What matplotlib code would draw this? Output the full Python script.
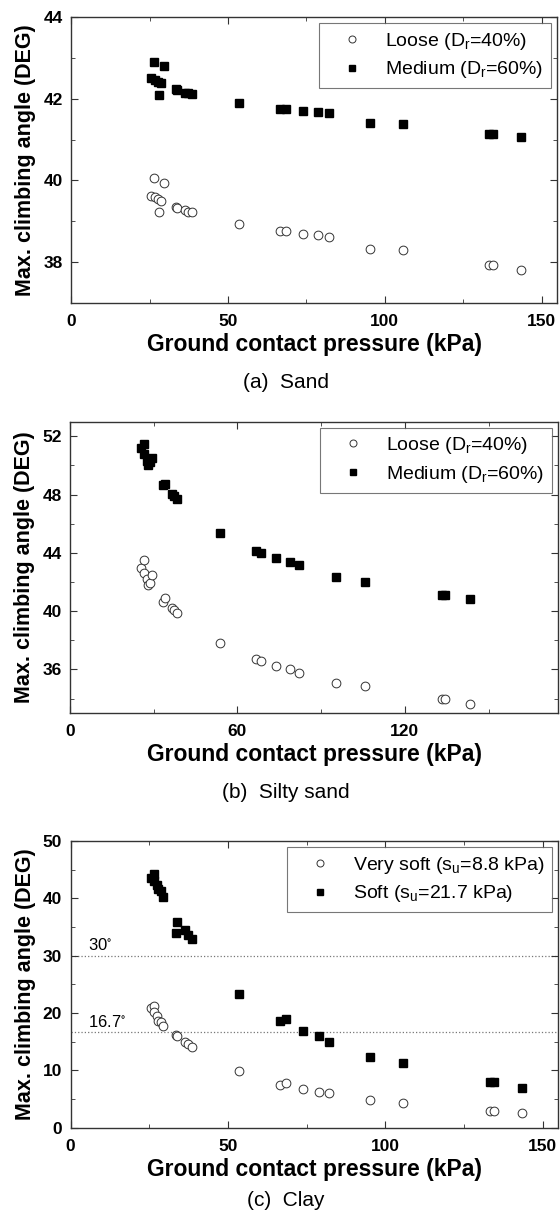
import matplotlib
matplotlib.use('Agg')
import matplotlib.pyplot as plt
from matplotlib.ticker import MultipleLocator

plt.rcParams['font.family'] = ['Liberation Sans', 'DejaVu Sans']
plt.rcParams['mathtext.default'] = 'regular'

# ground contact pressure (kPa), shared by all series
pressure = [25.5, 26.4, 26.6, 27.6, 27.9, 28.7, 29.5, 33.4, 33.9, 36.4, 37.4, 38.5,
            53.6, 66.7, 68.6, 74.0, 78.8, 82.1, 95.2, 105.8, 133.4, 134.5, 143.5]

# (a) sand
sand_loose = [39.63, 40.06, 39.60, 39.54, 39.23, 39.50, 39.93, 39.36, 39.32, 39.28, 39.24, 39.24,
              38.94, 38.77, 38.77, 38.70, 38.66, 38.62, 38.33, 38.29, 37.94, 37.94, 37.81]
sand_medium = [42.51, 42.91, 42.46, 42.42, 42.10, 42.38, 42.80, 42.24, 42.21, 42.15, 42.13, 42.11,
               41.90, 41.76, 41.74, 41.71, 41.67, 41.65, 41.41, 41.38, 41.14, 41.14, 41.07]

# (b) silty sand
silty_loose = [42.99, 43.51, 42.60, 42.22, 41.80, 41.92, 42.49, 40.63, 40.90, 40.22, 40.05, 39.85,
               37.80, 36.70, 36.57, 36.27, 36.00, 35.78, 35.05, 34.83, 33.96, 33.96, 33.66]
silty_medium = [51.2, 51.5, 50.8, 50.3, 50.0, 50.2, 50.5, 48.65, 48.72, 48.05, 47.9, 47.7,
                45.38, 44.15, 44.0, 43.63, 43.36, 43.17, 42.36, 41.97, 41.08, 41.08, 40.85]

# (c) clay
clay_vsoft = [20.8, 21.2, 20.1, 19.4, 18.6, 18.5, 17.7, 16.2, 15.9, 15.0, 14.6, 14.1,
              9.8, 7.45, 7.85, 6.75, 6.3, 6.1, 4.8, 4.25, 2.9, 2.9, 2.5]
clay_soft = [43.6, 44.2, 43.1, 42.3, 41.6, 41.2, 40.2, 33.96, 35.9, 34.4, 33.6, 32.85,
             23.25, 18.6, 19.0, 16.9, 15.9, 15.0, 12.4, 11.3, 7.9, 7.9, 6.9]

ref_angles = [30, 16.7]
ref_labels = ['30$^{\\circ}$', '16.7$^{\\circ}$']

fig = plt.figure(figsize=(5.6, 12.17), dpi=100)

def panel(rect, y1, y2, lab1, lab2, xlim, ylim, xmaj, xmin, ymaj, ymin, caption, cap_y):
    ax = fig.add_axes(rect)
    ax.plot(pressure, y1, 'o', ms=6.3, mfc='white', mec='#333333', mew=0.7, label=lab1)
    ax.plot(pressure, y2, 's', ms=5.2, color='black', label=lab2)
    ax.set_xlim(xlim)
    ax.set_ylim(ylim)
    ax.xaxis.set_major_locator(MultipleLocator(xmaj))
    ax.xaxis.set_minor_locator(MultipleLocator(xmin))
    ax.yaxis.set_major_locator(MultipleLocator(ymaj))
    ax.yaxis.set_minor_locator(MultipleLocator(ymin))
    ax.tick_params(which='both', direction='in', top=True, right=True, color='#333333')
    ax.tick_params(which='major', length=5, labelsize=12.5, pad=6)
    ax.tick_params(axis='x', which='major', pad=8)
    ax.tick_params(which='minor', length=3)
    for t in ax.get_xticklabels() + ax.get_yticklabels():
        t.set_fontweight('bold')
    for s in ax.spines.values():
        s.set_color('#333333')
        s.set_linewidth(1.0)
    ax.set_xlabel('Ground contact pressure (kPa)', fontsize=16.5, fontweight='bold', labelpad=3)
    ax.set_ylabel('Max. climbing angle (DEG)', fontsize=15.5, fontweight='bold', labelpad=5)
    leg = ax.legend(loc='upper right', fontsize=14, frameon=True, fancybox=False,
                    edgecolor='#555555', handlelength=2.6, handletextpad=0.4,
                    borderpad=0.4, labelspacing=0.4, borderaxespad=0.3, markerscale=0.8)
    leg.get_frame().set_linewidth(0.8)
    fig.text(0.51, cap_y, caption, ha='center', va='center', fontsize=15,
             family=['Liberation Sans Narrow', 'Liberation Sans'])
    return ax

panel([0.127, 0.751, 0.868, 0.235], sand_loose, sand_medium,
      'Loose (D$_r$=40%)', 'Medium (D$_r$=60%)',
      (0, 155), (37, 44), 50, 25, 2, 1, '(a)  Sand', 1 - 382 / 1217)

panel([0.125, 0.414, 0.872, 0.2395], silty_loose, silty_medium,
      'Loose (D$_r$=40%)', 'Medium (D$_r$=60%)',
      (0, 175), (33, 53), 60, 30, 4, 2, '(b)  Silty sand', 1 - 793 / 1217)

ax3 = panel([0.126, 0.0734, 0.871, 0.2356], clay_vsoft, clay_soft,
            'Very soft (s$_u$=8.8 kPa)', 'Soft (s$_u$=21.7 kPa)',
            (0, 155), (0, 50), 50, 25, 10, 5, '(c)  Clay', 1 - 1201 / 1217)
for a, lab in zip(ref_angles, ref_labels):
    ax3.axhline(a, color='#777777', linestyle=':', linewidth=0.9, zorder=0)
    ax3.text(5.5, a + 0.4, lab, fontsize=12, ha='left', va='bottom')

fig.savefig('out.png', dpi=100)
